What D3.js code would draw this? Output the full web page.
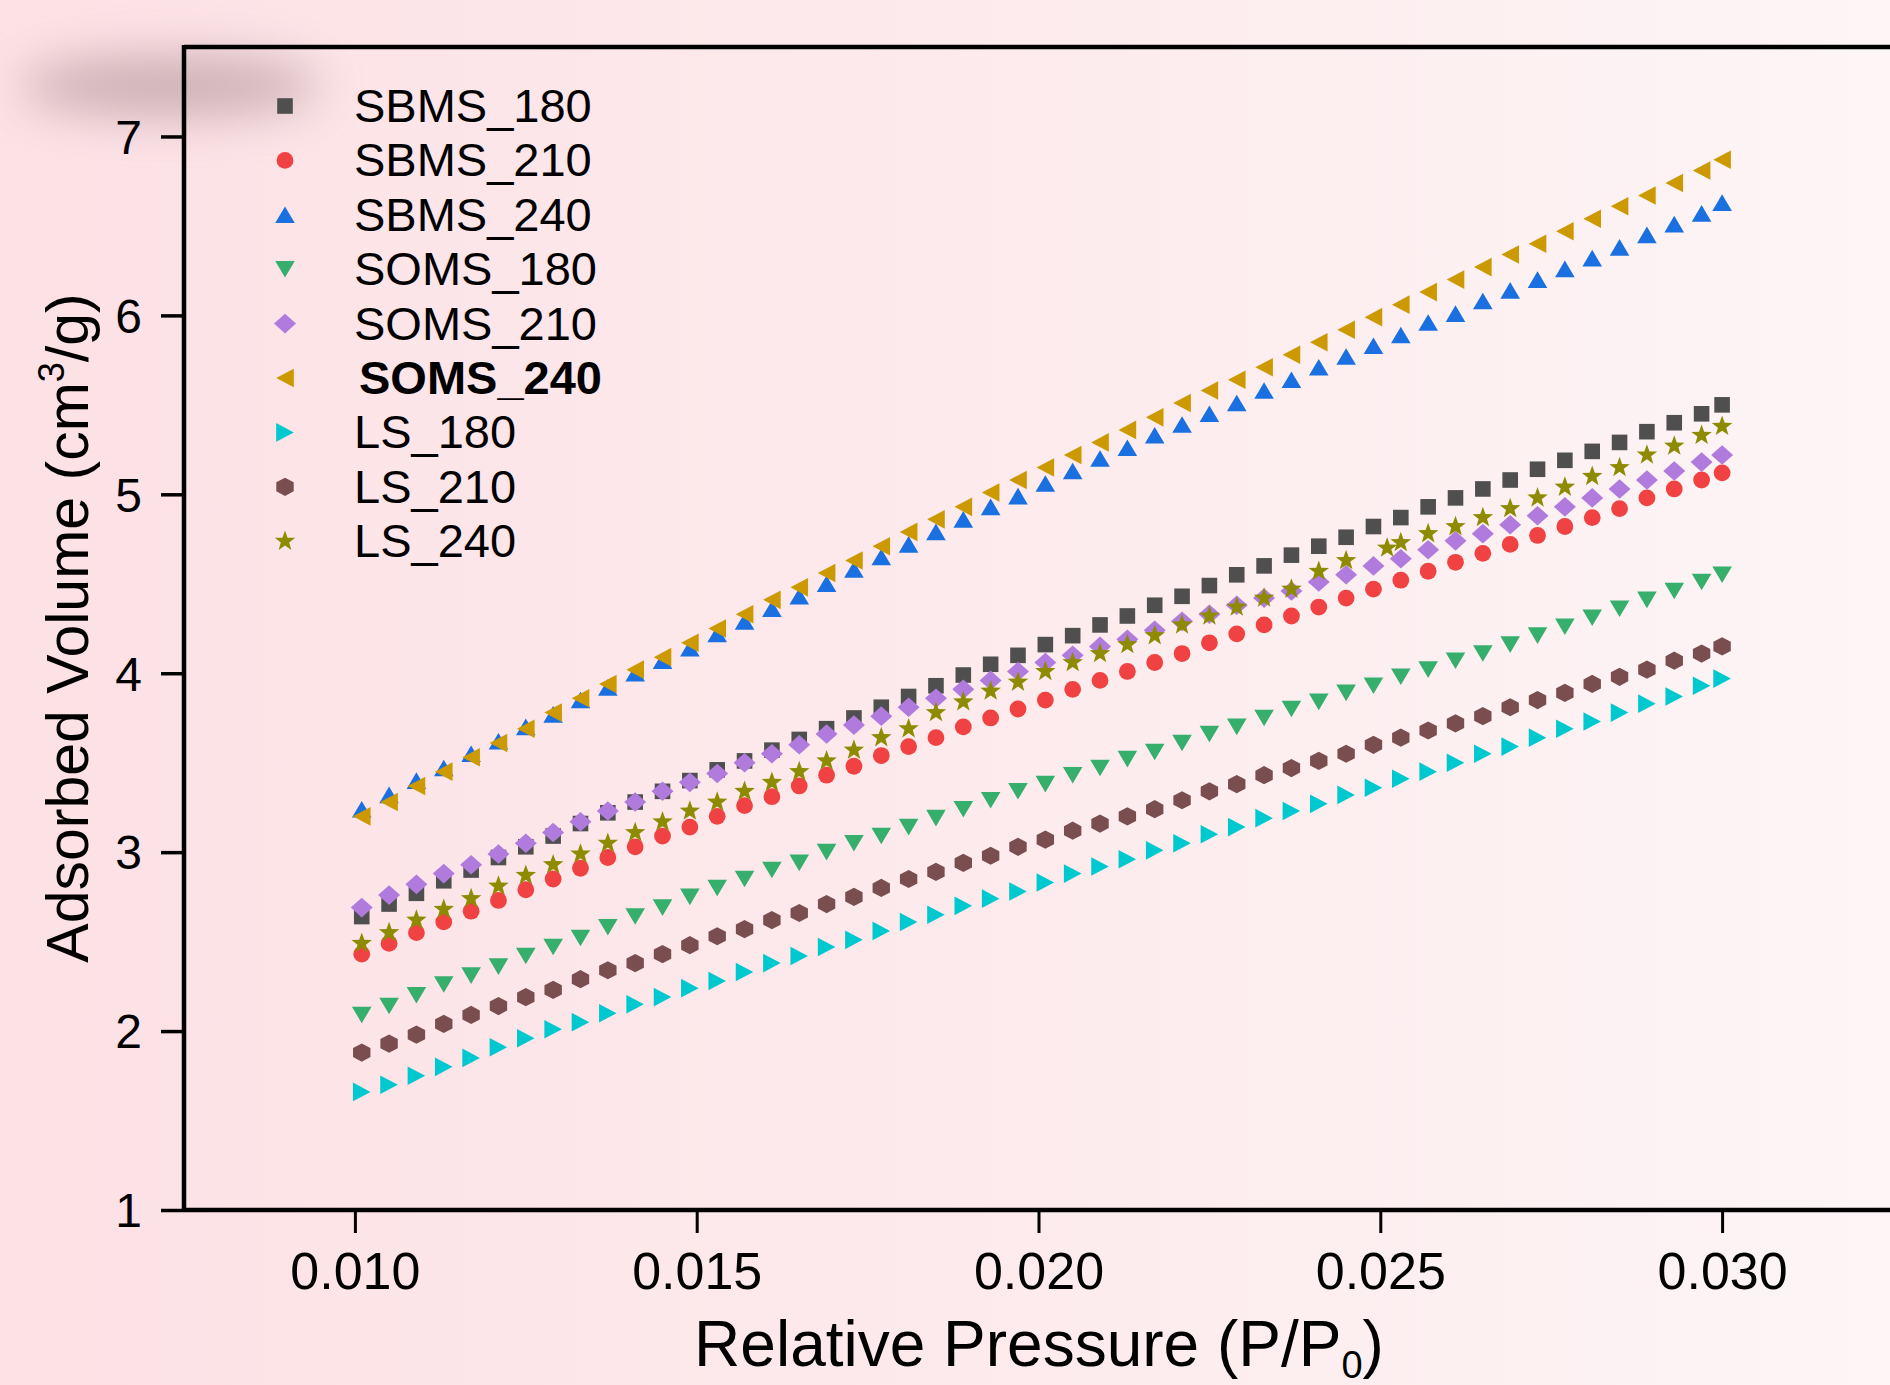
<!DOCTYPE html>
<html>
<head>
<meta charset="utf-8">
<script src="https://cdn.jsdelivr.net/npm/d3@7"></script>
<style>
  html, body { margin: 0; padding: 0; background: #fce4e7; }
  svg { display: block; }
  text { font-family: "Liberation Sans", Arial, Helvetica, sans-serif; fill: #000; }
</style>
</head>
<body>
<svg id="chart" width="1890" height="1385"></svg>
<script>
// ---------------- data ----------------
const pressure = [0.0101,0.0105,0.0109,0.0113,0.0117,0.0121,0.0125,0.0129,0.0133,0.0137,
  0.0141,0.0145,0.0149,0.0153,0.0157,0.0161,0.0165,0.0169,0.0173,0.0177,
  0.0181,0.0185,0.0189,0.0193,0.0197,0.0201,0.0205,0.0209,0.0213,0.0217,
  0.0221,0.0225,0.0229,0.0233,0.0237,0.0241,0.0245,0.0249,0.0253,0.0257,
  0.0261,0.0265,0.0269,0.0273,0.0277,0.0281,0.0285,0.0289,0.0293,0.0297,0.0300];
const pressureLS240 = [0.0101,0.0105,0.0109,0.0113,0.0117,0.0121,0.0125,0.0129,0.0133,0.0137,
  0.0141,0.0145,0.0149,0.0153,0.0157,0.0161,0.0165,0.0169,0.0173,0.0177,
  0.0181,0.0185,0.0189,0.0193,0.0197,0.0201,0.0205,0.0209,0.0213,0.0217,
  0.0221,0.0225,0.0229,0.0233,0.0237,0.0241,0.0245,0.0251,0.0253,0.0257,
  0.0261,0.0265,0.0269,0.0273,0.0277,0.0281,0.0285,0.0289,0.0293,0.0297,0.0300];

const sbms180 = [2.64,2.71,2.77,2.84,2.90,2.97,3.03,3.09,3.16,3.22,3.28,3.34,3.40,3.46,3.51,3.57,3.63,3.69,3.75,3.81,3.87,3.93,3.99,4.05,4.10,4.16,4.21,4.27,4.32,4.38,4.43,4.49,4.55,4.60,4.66,4.71,4.76,4.82,4.87,4.93,4.98,5.03,5.08,5.14,5.19,5.24,5.29,5.35,5.40,5.45,5.50];
const sbms210 = [2.43,2.49,2.55,2.61,2.67,2.73,2.79,2.85,2.91,2.97,3.03,3.09,3.14,3.20,3.26,3.31,3.37,3.43,3.48,3.54,3.59,3.64,3.70,3.75,3.80,3.85,3.91,3.96,4.01,4.06,4.11,4.17,4.22,4.27,4.32,4.37,4.42,4.47,4.52,4.57,4.62,4.67,4.72,4.77,4.82,4.87,4.92,4.98,5.03,5.08,5.12];
const sbms240 = [3.24,3.32,3.40,3.47,3.55,3.62,3.70,3.77,3.85,3.92,4.00,4.07,4.14,4.22,4.29,4.36,4.43,4.50,4.58,4.65,4.72,4.79,4.86,4.93,4.99,5.06,5.13,5.20,5.26,5.33,5.39,5.45,5.51,5.58,5.64,5.71,5.77,5.83,5.89,5.96,6.01,6.08,6.14,6.20,6.26,6.32,6.38,6.45,6.51,6.57,6.63];
const soms180 = [2.09,2.14,2.20,2.26,2.31,2.36,2.42,2.47,2.52,2.58,2.64,2.69,2.75,2.80,2.85,2.90,2.94,3.00,3.05,3.09,3.14,3.19,3.24,3.29,3.34,3.38,3.43,3.47,3.52,3.56,3.61,3.66,3.70,3.75,3.80,3.84,3.89,3.93,3.98,4.02,4.07,4.11,4.16,4.21,4.26,4.31,4.36,4.41,4.46,4.51,4.55];
const soms210 = [2.69,2.76,2.82,2.88,2.93,2.99,3.05,3.11,3.17,3.23,3.28,3.34,3.39,3.44,3.50,3.55,3.60,3.66,3.71,3.76,3.81,3.86,3.91,3.96,4.01,4.06,4.10,4.15,4.19,4.24,4.29,4.33,4.38,4.42,4.46,4.51,4.55,4.60,4.64,4.69,4.74,4.78,4.83,4.88,4.93,4.98,5.03,5.08,5.13,5.18,5.22];
const soms240 = [3.20,3.28,3.37,3.45,3.53,3.61,3.69,3.78,3.86,3.94,4.02,4.09,4.17,4.25,4.33,4.41,4.48,4.56,4.63,4.71,4.79,4.86,4.93,5.01,5.08,5.15,5.22,5.29,5.36,5.43,5.51,5.58,5.64,5.71,5.78,5.85,5.92,5.99,6.06,6.13,6.20,6.27,6.34,6.40,6.47,6.54,6.61,6.67,6.74,6.81,6.87];
const ls180 = [1.66,1.70,1.75,1.80,1.85,1.91,1.96,2.01,2.05,2.10,2.15,2.19,2.24,2.28,2.33,2.38,2.42,2.47,2.51,2.56,2.61,2.65,2.70,2.74,2.78,2.83,2.88,2.92,2.96,3.01,3.05,3.10,3.14,3.19,3.23,3.27,3.32,3.36,3.41,3.45,3.50,3.55,3.59,3.64,3.69,3.73,3.78,3.83,3.87,3.93,3.97];
const ls210 = [1.88,1.93,1.98,2.04,2.09,2.14,2.19,2.23,2.29,2.34,2.38,2.43,2.48,2.53,2.57,2.62,2.66,2.71,2.75,2.80,2.85,2.89,2.94,2.98,3.03,3.07,3.12,3.16,3.20,3.24,3.29,3.34,3.38,3.43,3.47,3.51,3.55,3.60,3.64,3.68,3.72,3.76,3.81,3.85,3.89,3.94,3.98,4.02,4.07,4.11,4.15];
const ls240 = [2.49,2.55,2.62,2.68,2.74,2.81,2.87,2.93,2.99,3.05,3.11,3.17,3.23,3.28,3.34,3.39,3.45,3.51,3.57,3.64,3.69,3.78,3.84,3.90,3.95,4.01,4.06,4.11,4.16,4.21,4.27,4.32,4.37,4.42,4.47,4.57,4.63,4.70,4.73,4.78,4.82,4.87,4.92,4.98,5.04,5.10,5.15,5.22,5.27,5.33,5.38];

const seriesNames = ["SBMS_180","SBMS_210","SBMS_240","SOMS_180","SOMS_210","SOMS_240","LS_180","LS_210","LS_240"];
const xTicks = [0.010, 0.015, 0.020, 0.025, 0.030];
const yTicks = [1, 2, 3, 4, 5, 6, 7];
const xTitle = "Relative Pressure (P/P";
const yTitle = "Adsorbed Volume (cm";

// ---------------- styling ----------------
const seriesStyle = [
  {shape: "square",  color: "#4f4f4f"},
  {shape: "circle",  color: "#f04242"},
  {shape: "up",      color: "#1a70e0"},
  {shape: "down",    color: "#36ae6c"},
  {shape: "diamond", color: "#b07bdd"},
  {shape: "left",    color: "#cc9900"},
  {shape: "right",   color: "#00c8cf"},
  {shape: "hex",     color: "#7a4e4e"},
  {shape: "star",    color: "#8e8b00"}
];
const seriesData = [
  {x: pressure, y: sbms180},
  {x: pressure, y: sbms210},
  {x: pressure, y: sbms240},
  {x: pressure, y: soms180},
  {x: pressure, y: soms210},
  {x: pressure, y: soms240},
  {x: pressure, y: ls180},
  {x: pressure, y: ls210},
  {x: pressureLS240, y: ls240}
];

function shapePath(s) {
  switch (s) {
    case "square":  return "M-7.8,-7.8H7.8V7.8H-7.8Z";
    case "circle":  return d3.symbol(d3.symbolCircle, Math.PI * 8.4 * 8.4)();
    case "up":      return "M0,-8.3L9.8,8.3L-9.8,8.3Z";
    case "down":    return "M-9.8,-8.3L9.8,-8.3L0,8.3Z";
    case "diamond": return "M0,-9.8L11,0L0,9.8L-11,0Z";
    case "left":    return "M-8.8,0L8.8,-9.3L8.8,9.3Z";
    case "right":   return "M8.8,0L-8.8,-9.3L-8.8,9.3Z";
    case "hex":     return "M0,-9.1L8.7,-4.55L8.7,4.55L0,9.1L-8.7,4.55L-8.7,-4.55Z";
    case "star": {
      const R = 10.8, r = 4.4; let p = "";
      for (let i = 0; i < 10; i++) {
        const a = -Math.PI / 2 + i * Math.PI / 5, rr = i % 2 ? r : R;
        p += (i ? "L" : "M") + (rr * Math.cos(a)).toFixed(2) + "," + (rr * Math.sin(a)).toFixed(2);
      }
      return p + "Z";
    }
  }
}

// ---------------- chart ----------------
const svg = d3.select("#chart");
const defs = svg.append("defs");
const grad = defs.append("linearGradient").attr("id", "bg").attr("x1", "0").attr("x2", "1").attr("y1", "0").attr("y2", "0");
grad.append("stop").attr("offset", "0%").attr("stop-color", "#fce1e5");
grad.append("stop").attr("offset", "50%").attr("stop-color", "#fdeaec");
grad.append("stop").attr("offset", "100%").attr("stop-color", "#fdf5f6");
const blur = defs.append("filter").attr("id", "blur").attr("x", "-60%").attr("y", "-150%").attr("width", "220%").attr("height", "400%");
blur.append("feGaussianBlur").attr("stdDeviation", 24);

svg.append("rect").attr("width", 1890).attr("height", 1385).attr("fill", "url(#bg)");
svg.append("ellipse").attr("cx", 170).attr("cy", 86).attr("rx", 150).attr("ry", 30)
  .attr("fill", "#a88b91").attr("opacity", 0.6).attr("filter", "url(#blur)");

const x = d3.scaleLinear().domain([0.0075, 0.0325]).range([184, 1893]);
const y = d3.scaleLinear().domain([1, 7.5]).range([1210, 47]);

// points
seriesData.forEach((s, i) => {
  const st = seriesStyle[i];
  const pts = s.x.map((xv, j) => [xv, s.y[j]]);
  svg.append("g").selectAll("path").data(pts).join("path")
    .attr("d", shapePath(st.shape))
    .attr("transform", d => `translate(${x(d[0])},${y(d[1])})`)
    .attr("fill", st.color);
});

// axes
const xAxis = svg.append("g").attr("transform", "translate(0,1210)")
  .call(d3.axisBottom(x).tickValues(xTicks).tickFormat(d3.format(".3f")).tickSize(23).tickSizeOuter(0).tickPadding(19));
xAxis.select(".domain").remove();
xAxis.selectAll(".tick line").attr("stroke", "#000").attr("stroke-width", 3);
xAxis.selectAll(".tick text").attr("font-size", 52).attr("font-family", "Liberation Sans, Arial, sans-serif").attr("fill", "#000");

const yAxis = svg.append("g").attr("transform", "translate(184,0)")
  .call(d3.axisLeft(y).tickValues(yTicks).tickFormat(d3.format("d")).tickSize(23).tickSizeOuter(0).tickPadding(19));
yAxis.select(".domain").remove();
yAxis.selectAll(".tick line").attr("stroke", "#000").attr("stroke-width", 3.5);
yAxis.selectAll(".tick text").attr("font-size", 48).attr("font-family", "Liberation Sans, Arial, sans-serif").attr("fill", "#000").attr("dy", "0.35em");

// frame lines (left, top, bottom)
svg.append("line").attr("x1", x.range()[0]).attr("x2", x.range()[1]).attr("y1", y(1)).attr("y2", y(1)).attr("stroke", "#000").attr("stroke-width", 4.5);
svg.append("line").attr("x1", x.range()[0]).attr("x2", x.range()[1]).attr("y1", y(7.5)).attr("y2", y(7.5)).attr("stroke", "#000").attr("stroke-width", 4.5);
svg.append("line").attr("x1", x.range()[0]).attr("x2", x.range()[0]).attr("y1", y(7.5) - 2).attr("y2", y(1) + 2).attr("stroke", "#000").attr("stroke-width", 4.5);

// axis titles
const xt = svg.append("text").attr("x", 1039).attr("y", 1366).attr("text-anchor", "middle").attr("font-size", 64);
xt.append("tspan").text(xTitle);
xt.append("tspan").attr("font-size", 38).attr("dy", 12).text("0");
xt.append("tspan").attr("dy", -12).text(")");

const yt = svg.append("text").attr("transform", "translate(88,628) rotate(-90)").attr("text-anchor", "middle").attr("font-size", 59);
yt.append("tspan").text(yTitle);
yt.append("tspan").attr("font-size", 36).attr("dy", -24).text("3");
yt.append("tspan").attr("dy", 24).text("/g)");

// legend
const legend = svg.append("g");
seriesNames.forEach((name, i) => {
  const cy = 106 + i * 54.4;
  legend.append("path").attr("d", shapePath(seriesStyle[i].shape))
    .attr("transform", `translate(285,${cy})`).attr("fill", seriesStyle[i].color);
  const bold = name === "SOMS_240";
  legend.append("text").attr("x", bold ? 359 : 354).attr("y", cy + 16)
    .attr("font-size", 47).attr("font-weight", bold ? "bold" : "normal").text(name);
});
</script>
</body>
</html>
